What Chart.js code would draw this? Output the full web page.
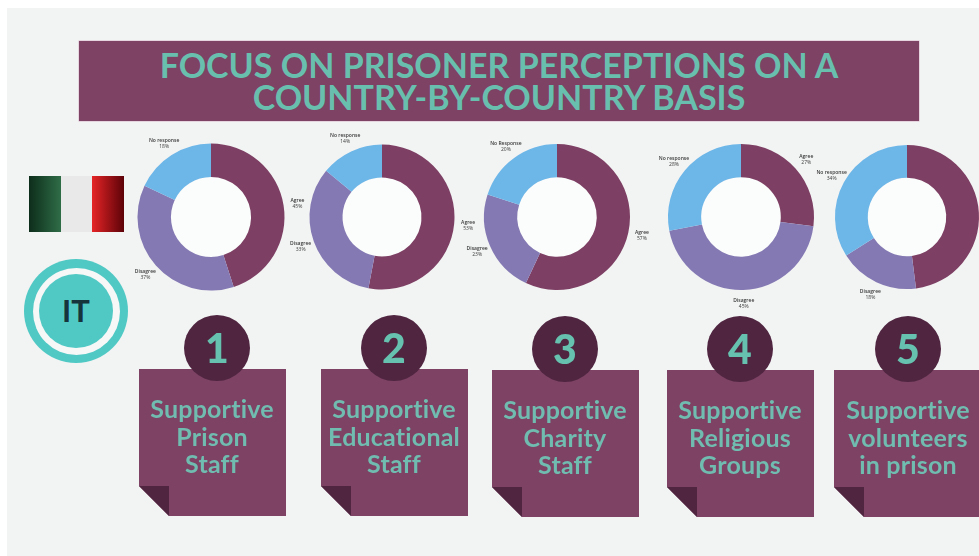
<!DOCTYPE html>
<html lang="en">
<head>
<meta charset="utf-8">
<title>Focus on prisoner perceptions</title>
<script src="https://cdn.jsdelivr.net/npm/chart.js@4/dist/chart.umd.min.js"></script>
<style>
html,body{margin:0;padding:0;background:#fff;}
body{width:979px;height:556px;overflow:hidden;position:relative;font-variant-ligatures:none;}
#page{position:absolute;left:0;top:0;width:979px;height:556px;overflow:hidden;filter:blur(.45px);}
#bg{position:absolute;left:7px;top:8px;width:972px;height:548px;background:#f2f3f3;}
#band{position:absolute;left:79px;top:41px;width:840px;height:80px;background:#7d4264;box-shadow:0 0 0 .5px #d9b7cc;}
.tline{position:absolute;left:79px;width:840px;text-align:center;color:#69bfae;font:700 34px/33px Lato,sans-serif;font-variant-ligatures:none;white-space:nowrap;}
#flag{position:absolute;left:29px;top:176px;width:95px;height:56px;display:flex;}
#flag div{flex:1;}
#flag .g{background:linear-gradient(90deg,#0d2d1b,#2f6d47);}
#flag .w{background:#e9e9e9;}
#flag .r{background:linear-gradient(90deg,#e52426,#5c0208);}
#badge{position:absolute;left:24px;top:259px;width:104px;height:104px;border-radius:50%;background:#50c9c4;}
#badge i{position:absolute;left:8.5px;top:8.5px;width:87px;height:87px;border-radius:50%;background:#f6f7f7;}
#badge b{position:absolute;left:15px;top:15px;width:74px;height:74px;border-radius:50%;background:#50c9c4;color:#15343c;font:700 31px/72px Lato,sans-serif;text-align:center;}
canvas{position:absolute;}
.note{position:absolute;width:147px;height:147px;background:#7d4264;clip-path:polygon(0 0,100% 0,100% 100%,30px 100%,0 117px);}
.fold{position:absolute;width:30px;height:30px;background:#4f2540;clip-path:polygon(0 0,100% 0,100% 100%);}
.num{position:absolute;width:66px;height:66px;border-radius:50%;background:#4f2540;color:#66c2ae;font:900 41px/66px Lato,sans-serif;text-align:center;}
.lab{position:absolute;width:160px;text-align:center;color:#70bcb0;font:700 25px/27.7px Lato,sans-serif;letter-spacing:.2px;font-variant-ligatures:none;white-space:nowrap;}
</style>
</head>
<body>
<div id="page">
<div id="bg"></div>
<div id="band"></div>
<div class="tline" id="t1" style="top:48px"></div>
<div class="tline" id="t2" style="top:80px"></div>
<div id="flag"><div class="g"></div><div class="w"></div><div class="r"></div></div>
<div id="badge"><i></i><b id="code"></b></div>
<div id="charts"></div>
<div id="notes"></div>
</div>
<script>
// ---- data ----
const titleLines = ["FOCUS ON PRISONER PERCEPTIONS ON A", "COUNTRY-BY-COUNTRY BASIS"];
const countryCode = "IT";
const prisonStaffLabels = ["Agree", "Disagree", "No response"];
const prisonStaffValues = [45, 37, 18];
const educationalStaffLabels = ["Agree", "Disagree", "No response"];
const educationalStaffValues = [53, 33, 14];
const charityStaffLabels = ["Agree", "Disagree", "No Response"];
const charityStaffValues = [57, 23, 20];
const religiousGroupsLabels = ["Agree", "Disagree", "No response"];
const religiousGroupsValues = [27, 45, 28];
const volunteersLabels = ["Agree", "Disagree", "No response"];
const volunteersValues = [48, 18, 34];
const noteTitles = [
  ["Supportive", "Prison", "Staff"],
  ["Supportive", "Educational", "Staff"],
  ["Supportive", "Charity", "Staff"],
  ["Supportive", "Religious", "Groups"],
  ["Supportive", "volunteers", "in prison"]
];

// ---- layout and style ----
const sliceColours = ["#7d3f63", "#8479b3", "#6db6e8"];
const canvasSize = 220;
const labelGap = 14;
const chartCentres = [[211, 217], [382, 217], [557, 217], [741, 217], [907, 217]];
const chartRadii = [73.5, 72.5, 73, 73, 72];
const noteLefts = [139, 321, 492, 667, 834];
const noteTops = [369, 369, 370, 370, 370];
const noteCentres = [217, 394, 565, 740, 908];
const textCentres = [212, 394, 565, 740, 908];

document.getElementById("t1").textContent = titleLines[0];
document.getElementById("t2").textContent = titleLines[1];
document.getElementById("code").textContent = countryCode;

const ringPlugin = {
  id: "ringExtras",
  beforeDatasetsDraw(chart) {
    const arc = chart.getDatasetMeta(0).data[0];
    const c = chart.ctx;
    c.save();
    c.fillStyle = "#fbfcfc";
    c.beginPath();
    c.arc(arc.x, arc.y, arc.innerRadius, 0, Math.PI * 2);
    c.fill();
    c.restore();
  },
  afterDatasetsDraw(chart) {
    const c = chart.ctx;
    const meta = chart.getDatasetMeta(0);
    const values = chart.data.datasets[0].data;
    c.save();
    c.textAlign = "center";
    c.textBaseline = "middle";
    c.fillStyle = "#3a3a3a";
    meta.data.forEach((arc, i) => {
      const mid = (arc.startAngle + arc.endAngle) / 2;
      const r = arc.outerRadius + labelGap;
      const x = arc.x + Math.cos(mid) * r;
      const y = arc.y + Math.sin(mid) * r;
      c.font = "600 5px 'Open Sans', sans-serif";
      c.fillText(chart.data.labels[i], x, y - 3);
      c.font = "400 5px 'Open Sans', sans-serif";
      c.fillText(values[i] + "%", x, y + 3);
    });
    c.restore();
  }
};

const chartHost = document.getElementById("charts");
const seriesLabels = [prisonStaffLabels, educationalStaffLabels, charityStaffLabels, religiousGroupsLabels, volunteersLabels];
const seriesValues = [prisonStaffValues, educationalStaffValues, charityStaffValues, religiousGroupsValues, volunteersValues];

seriesValues.forEach((values, i) => {
  const cv = document.createElement("canvas");
  cv.width = canvasSize;
  cv.height = canvasSize;
  cv.style.left = (chartCentres[i][0] - canvasSize / 2) + "px";
  cv.style.top = (chartCentres[i][1] - canvasSize / 2) + "px";
  cv.style.width = canvasSize + "px";
  cv.style.height = canvasSize + "px";
  chartHost.appendChild(cv);
  new Chart(cv, {
    type: "doughnut",
    data: {
      labels: seriesLabels[i],
      datasets: [{ data: values, backgroundColor: sliceColours, borderWidth: 0, hoverOffset: 0 }]
    },
    options: {
      responsive: false,
      animation: false,
      cutout: "54.5%",
      layout: { padding: canvasSize / 2 - chartRadii[i] },
      plugins: { legend: { display: false }, tooltip: { enabled: false } }
    },
    plugins: [ringPlugin]
  });
});

const noteHost = document.getElementById("notes");
noteTitles.forEach((lines, i) => {
  const n = document.createElement("div");
  n.className = "note";
  n.style.left = noteLefts[i] + "px";
  n.style.top = noteTops[i] + "px";
  noteHost.appendChild(n);
  const f = document.createElement("div");
  f.className = "fold";
  f.style.left = noteLefts[i] + "px";
  f.style.top = (noteTops[i] + 117) + "px";
  noteHost.appendChild(f);
  const c = document.createElement("div");
  c.className = "num";
  c.textContent = String(i + 1);
  c.style.left = (noteCentres[i] - 33) + "px";
  c.style.top = (noteTops[i] - 54) + "px";
  noteHost.appendChild(c);
  const t = document.createElement("div");
  t.className = "lab";
  t.style.left = (textCentres[i] - 80) + "px";
  t.style.top = (noteTops[i] + 26) + "px";
  t.innerHTML = lines.join("<br>");
  noteHost.appendChild(t);
});
</script>
</body>
</html>
